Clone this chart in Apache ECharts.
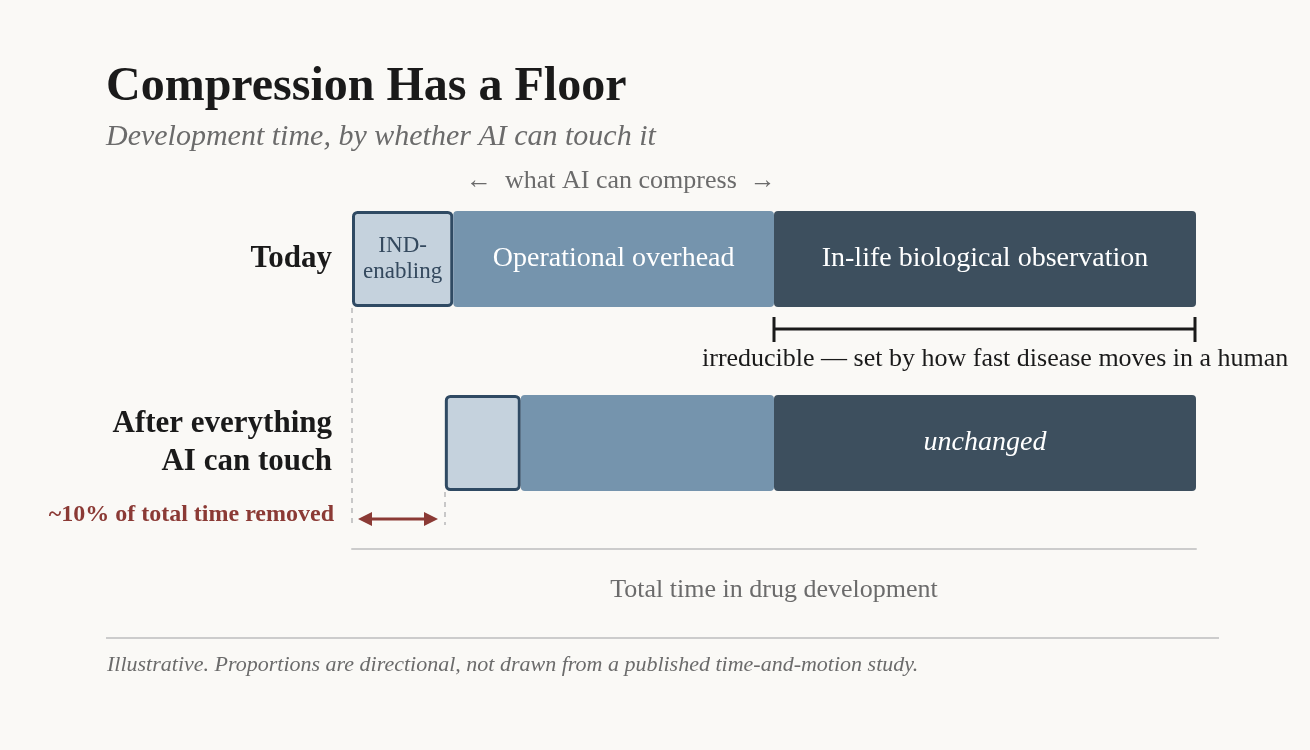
<!DOCTYPE html>
<html><head><meta charset="utf-8">
<script src="https://cdn.jsdelivr.net/npm/echarts@6/dist/echarts.min.js"></script>
<style>html,body{margin:0;background:#faf9f6}#c{width:1310px;height:750px}</style>
</head><body><div id="c"></div>
<script>
const categories = ["Today", "After everything\nAI can touch"];
const offsetVals = [0, 11];
const indVals = [12, 9];
const opVals = [38, 30];
const lifeVals = [50, 50];

const F = "Liberation Serif, DejaVu Serif, serif";
const chart = echarts.init(document.getElementById("c"));
const barBase = { type: "bar", stack: "t", barWidth: 96, barGap: 0 };

chart.setOption({
  backgroundColor: "#faf9f6",
  animation: false,
  textStyle: { fontFamily: F },
  grid: { left: 352, right: 114, top: 167, bottom: 215 },
  xAxis: {
    type: "value", min: 0, max: 100,
    axisLabel: { show: false }, splitLine: { show: false }, axisTick: { show: false },
    axisLine: { show: true, onZero: false, lineStyle: { color: "#cccccc", width: 2 } },
    offset: 14,
    name: "Total time in drug development", nameLocation: "middle", nameGap: 28,
    nameTextStyle: { fontFamily: F, fontSize: 26, color: "#6b6b6b" }
  },
  yAxis: {
    type: "category", data: categories, inverse: true,
    axisLine: { show: false }, axisTick: { show: false },
    axisLabel: { fontFamily: F, fontSize: 31, fontWeight: "bold", color: "#1a1a1a", margin: 20, lineHeight: 38 }
  },
  series: [
    Object.assign({}, barBase, { data: offsetVals, itemStyle: { color: "transparent" }, silent: true }),
    Object.assign({}, barBase, {
      data: indVals.map((v, i) => ({ value: v, label: { show: i === 0 } })),
      itemStyle: { color: "#c5d2dd", borderColor: "#2f4a63", borderWidth: 3, borderRadius: 4 },
      label: { show: true, position: "inside", formatter: "IND-\nenabling", fontFamily: F, fontSize: 23, color: "#34495e", lineHeight: 26 }
    }),
    Object.assign({}, barBase, {
      data: opVals.map((v, i) => ({ value: v, label: { show: i === 0 } })),
      itemStyle: { color: "#7594ad", borderRadius: 4 },
      label: { show: true, position: "inside", formatter: "Operational overhead", fontFamily: F, fontSize: 28, color: "#ffffff" }
    }),
    Object.assign({}, barBase, {
      data: lifeVals.map((v, i) => ({ value: v, label: i === 0
        ? { formatter: "In-life biological observation" }
        : { formatter: "unchanged", fontStyle: "italic" } })),
      itemStyle: { color: "#3d4f5e", borderRadius: 4 },
      label: { show: true, position: "inside", fontFamily: F, fontSize: 28, color: "#ffffff" }
    })
  ],
  graphic: [
    { type: "text", left: 106, top: 64, style: { text: "Compression Has a Floor", font: "bold 48px " + F, fill: "#1a1a1a" } },
    { type: "text", left: 106, top: 122, style: { text: "Development time, by whether AI can touch it", font: "italic 30px " + F, fill: "#6b6b6b" } },
    { type: "text", left: 466, top: 168, style: { text: "←  what AI can compress  →", font: "26px " + F, fill: "#6b6b6b" } },
    { type: "line", shape: { x1: 352, y1: 308, x2: 352, y2: 525 }, style: { stroke: "#c8c8c8", lineWidth: 2, lineDash: [5, 5] } },
    { type: "line", shape: { x1: 445, y1: 492, x2: 445, y2: 525 }, style: { stroke: "#c8c8c8", lineWidth: 2, lineDash: [5, 5] } },
    { type: "line", shape: { x1: 774, y1: 329, x2: 1195, y2: 329 }, style: { stroke: "#1a1a1a", lineWidth: 3 } },
    { type: "line", shape: { x1: 774, y1: 317, x2: 774, y2: 342 }, style: { stroke: "#1a1a1a", lineWidth: 3 } },
    { type: "line", shape: { x1: 1195, y1: 317, x2: 1195, y2: 342 }, style: { stroke: "#1a1a1a", lineWidth: 3 } },
    { type: "text", left: 702, top: 346, style: { text: "irreducible — set by how fast disease moves in a human", font: "26px " + F, fill: "#1a1a1a" } },
    { type: "text", right: 1310 - 334, top: 503, style: { text: "~10% of total time removed", font: "bold 24px " + F, fill: "#8b3a35", align: "right" } },
    { type: "line", shape: { x1: 366, y1: 519, x2: 430, y2: 519 }, style: { stroke: "#8b3a35", lineWidth: 3 } },
    { type: "polygon", shape: { points: [[358, 519], [372, 512], [372, 526]] }, style: { fill: "#8b3a35" } },
    { type: "polygon", shape: { points: [[438, 519], [424, 512], [424, 526]] }, style: { fill: "#8b3a35" } },
    { type: "line", shape: { x1: 106, y1: 638, x2: 1219, y2: 638 }, style: { stroke: "#cccccc", lineWidth: 2 } },
    { type: "text", left: 107, top: 654, style: { text: "Illustrative. Proportions are directional, not drawn from a published time-and-motion study.", font: "italic 22px " + F, fill: "#6b6b6b" } }
  ]
});
</script></body></html>
